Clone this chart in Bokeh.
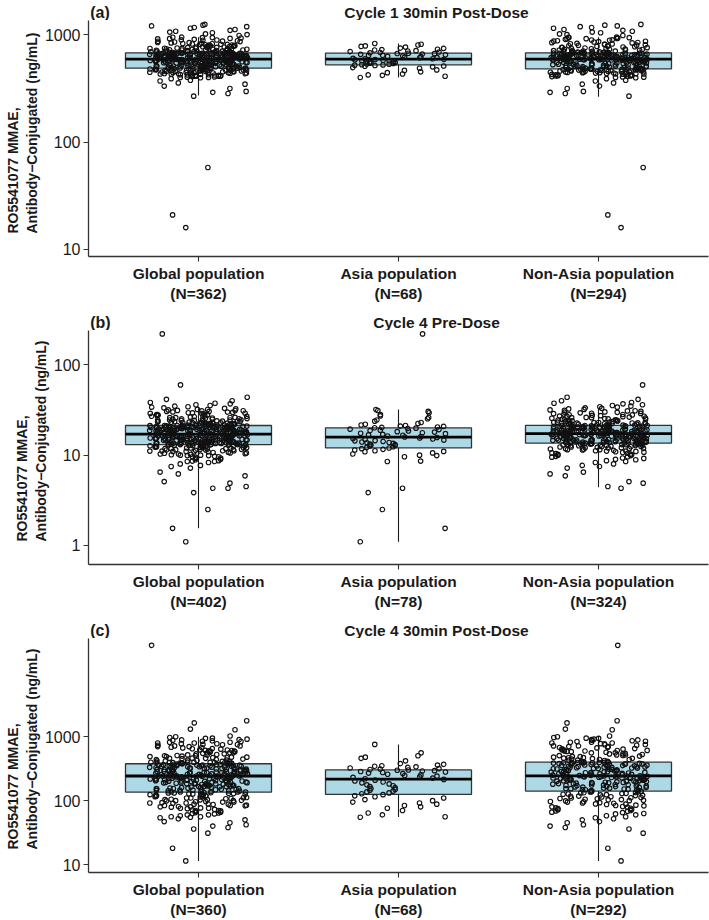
from bokeh.plotting import figure
from bokeh.layouts import column
from bokeh.models import FixedTicker, NumeralTickFormatter, Range1d, Title
from bokeh.core.properties import value
from bokeh.embed import file_html
from bokeh.resources import INLINE

GROUPS = ["Global population", "Asia population", "Non-Asia population"]
Y_LABEL = ["RO5541077 MMAE,", "Antibody\u2212Conjugated (ng/mL)"]

# ---------------- Panel (a) ----------------
A_TITLE = "Cycle 1 30min Post-Dose"
A_N = [362, 68, 294]
A_ASIA = [400, 411, 419, 423, 431, 444, 452, 466, 471, 488, 495, 503, 509, 512, 518, 521, 524,
          527, 533, 535, 541, 544, 550, 552, 556, 559, 561, 566, 572, 573, 579, 584, 588, 591,
          596, 598, 604, 611, 613, 620, 627, 629, 636, 643, 645, 652, 658, 661, 667, 670, 673,
          679, 684, 692, 698, 706, 712, 721, 728, 734, 747, 752, 768, 779, 788, 803, 816, 829]
A_NONASIA = [16, 21, 58, 268, 284, 291, 297, 316, 333, 347,
             356, 371, 377, 390, 398, 401, 403, 405, 408, 411,
             413, 414, 416, 419, 421, 422, 424, 425, 428, 430,
             431, 433, 434, 436, 439, 440, 441, 443, 444, 446,
             447, 448, 450, 451, 453, 455, 456, 457, 458, 460,
             461, 462, 464, 465, 466, 467, 469, 470, 471, 472,
             473, 474, 475, 476, 477, 478, 479, 479, 480, 481,
             481, 482, 482, 482,
             483, 485, 486, 489, 490, 491, 494, 496, 497, 499,
             500, 503, 504, 505, 508, 509, 511, 512, 515, 516,
             518, 519, 521, 524, 525, 527, 528, 530, 532, 533,
             535, 537, 538, 541, 542, 544, 545, 548, 549, 551,
             553, 554, 556, 558, 560, 561, 563, 565, 566, 568,
             570, 571, 573, 575, 576, 578, 580, 581, 582, 584,
             585, 586, 587, 588, 589, 590, 590, 591, 591, 592,
             592, 593, 593,
             594, 595, 597, 598, 599, 601, 602, 604, 605, 606,
             608, 609, 611, 612, 613, 615, 616, 617, 619, 620,
             621, 623, 624, 626, 627, 628, 630, 631, 633, 634,
             635, 637, 638, 639, 641, 642, 644, 645, 646, 648,
             649, 650, 652, 653, 655, 656, 657, 659, 660, 661,
             663, 664, 665, 667, 668, 669, 670, 671, 672, 673,
             674, 675, 676, 676, 677, 677, 678, 678, 679, 679,
             680, 680, 680,
             683, 686, 689, 692, 695, 698, 701, 704, 707, 711,
             714, 718, 721, 725, 729, 733, 737, 741, 745, 750,
             754, 759, 764, 769, 774, 779, 784, 790, 796, 801,
             807, 813, 820, 826, 833, 840, 848, 856, 864, 872,
             880, 889, 898, 907, 916, 925, 934, 942, 948, 951,
             705, 732, 760, 790, 815, 845, 870, 895, 920, 940,
             985, 1005, 1020, 1045, 1060, 1080, 1100, 1120, 1150, 1170,
             1190, 1210, 1230, 1250]
A_Q1 = [489, 525, 482]
A_MED = [593, 593, 593]
A_Q3 = [680, 674, 680]
A_WLO = [272, 400, 265]
A_WHI = [950, 830, 950]
A_YTICKS = [10, 100, 1000]
A_YRANGE = [8.6, 1359]

# ---------------- Panel (b) ----------------
B_TITLE = "Cycle 4 Pre-Dose"
B_N = [402, 78, 324]
B_ASIA = [1.1, 1.55, 2.5, 3.85, 4.3, 8.5, 8.6, 9.6, 9.9, 10.0, 10.3, 10.6, 10.9, 11.0, 11.2, 11.4, 11.6, 11.8, 12.0,
          12.2, 12.4, 12.6, 12.8, 13.0, 13.1, 13.3, 13.5, 13.7, 13.8, 14.0, 14.2, 14.4, 14.5, 14.7, 14.9, 15.1, 15.3, 15.5, 15.7,
          15.9, 16.1, 16.3, 16.6, 16.8, 17.0, 17.3, 17.5, 17.7, 18.0, 18.2, 18.5, 18.7, 18.9, 19.2, 19.4, 19.7, 19.9, 20.1,
          20.3, 20.5, 20.8, 21.0, 21.3, 21.6, 22.0, 22.4, 23.0, 23.8, 24.5, 25.3, 26.1, 27.2, 28.1, 29.5, 30.5, 31.2, 32.0, 220]
B_NONASIA = [4.3, 4.5, 4.9, 5.1, 5.9, 6.2, 6.5, 7.2, 7.5, 7.7,
             8.0, 8.3, 8.5, 8.7, 8.9, 9.0, 9.2, 9.3, 9.5, 9.6,
             9.7, 9.9, 10.0, 10.1, 10.2, 10.3, 10.4, 10.5, 10.6, 10.7,
             10.8, 10.9, 11.0, 11.1, 11.1, 11.2, 11.3, 11.4, 11.5, 11.5,
             11.6, 11.7, 11.8, 11.8, 11.9, 12.0, 12.1, 12.1, 12.2, 12.3,
             12.3, 12.4, 12.5, 12.5, 12.6, 12.7, 12.7, 12.8, 12.8, 12.9,
             12.9, 13.0, 13.0, 13.1, 13.1, 13.2, 13.2, 13.3, 13.3, 13.3,
             13.4, 13.4, 13.4, 13.5, 13.5, 13.5, 13.6, 13.6, 13.6, 13.6,
             13.6,
             13.7, 13.7, 13.8, 13.8, 13.9, 13.9, 14.0, 14.0, 14.1, 14.1,
             14.2, 14.2, 14.3, 14.3, 14.4, 14.4, 14.5, 14.5, 14.6, 14.6,
             14.7, 14.7, 14.8, 14.8, 14.9, 14.9, 15.0, 15.0, 15.1, 15.1,
             15.2, 15.2, 15.3, 15.3, 15.4, 15.4, 15.5, 15.5, 15.6, 15.6,
             15.7, 15.7, 15.8, 15.8, 15.9, 15.9, 16.0, 16.0, 16.1, 16.1,
             16.2, 16.2, 16.3, 16.3, 16.4, 16.4, 16.5, 16.5, 16.6, 16.6,
             16.7, 16.7, 16.8, 16.8, 16.9, 16.9, 17.0, 17.0, 17.1, 17.1,
             17.2, 17.2, 17.3, 17.3, 15.0, 15.5, 16.0, 16.5, 14.5, 14.0,
             17.0,
             17.4, 17.4, 17.5, 17.5, 17.6, 17.6, 17.7, 17.7, 17.8, 17.8,
             17.9, 17.9, 18.0, 18.0, 18.1, 18.1, 18.2, 18.2, 18.3, 18.3,
             18.4, 18.4, 18.5, 18.5, 18.6, 18.6, 18.7, 18.7, 18.8, 18.8,
             18.9, 18.9, 19.0, 19.0, 19.1, 19.1, 19.2, 19.2, 19.3, 19.3,
             19.4, 19.4, 19.5, 19.5, 19.6, 19.6, 19.7, 19.7, 19.8, 19.8,
             19.9, 19.9, 20.0, 20.0, 20.1, 20.1, 20.2, 20.2, 20.3, 20.3,
             20.4, 20.4, 20.5, 20.5, 20.6, 20.6, 20.7, 20.7, 20.8, 20.8,
             20.9, 20.9, 21.0, 21.0, 21.1, 21.1, 21.2, 21.2, 21.3, 21.3,
             21.4,
             21.5, 21.6, 21.7, 21.8, 21.9, 22.0, 22.1, 22.2, 22.3, 22.4,
             22.5, 22.6, 22.7, 22.8, 22.9, 23.0, 23.1, 23.2, 23.3, 23.5,
             23.6, 23.7, 23.9, 24.0, 24.2, 24.3, 24.5, 24.6, 24.8, 25.0,
             25.2, 25.4, 25.6, 25.8, 26.0, 26.2, 26.4, 26.7, 26.9, 27.1,
             27.4, 27.6, 27.9, 28.2, 28.5, 28.8, 29.1, 29.4, 29.8, 30.1,
             30.5, 30.9, 31.3, 31.7, 32.1, 32.5, 33.0, 33.4, 34.0, 34.4,
             34.9, 35.5, 36.2, 37.0, 37.6, 38.3, 40.0, 41.5, 43.8, 60.0,
             22.0, 23.0, 24.0, 25.0, 26.0, 27.0, 28.0, 29.0, 30.0, 31.0,
             24.5]
B_Q1 = [13.1, 12.05, 13.6]
B_MED = [17.1, 15.8, 17.3]
B_Q3 = [21.3, 20.1, 21.4]
B_WLO = [1.55, 1.1, 4.42]
B_WHI = [33.0, 32.0, 33.0]
B_YTICKS = [1, 10, 100]
B_YRANGE = [0.616, 240]

# ---------------- Panel (c) ----------------
C_TITLE = "Cycle 4 30min Post-Dose"
C_N = [360, 68, 292]
C_ASIA = [55, 56, 60, 64, 70, 76, 80, 84, 88, 92, 95, 100, 104, 110, 115, 119, 124,
          128, 132, 137, 141, 146, 150, 155, 160, 166, 171, 177, 183, 190, 196, 203, 209, 215,
          220, 225, 231, 236, 242, 248, 253, 259, 265, 270, 276, 281, 286, 291, 295, 299, 302,
          307, 312, 318, 325, 331, 338, 345, 352, 360, 370, 380, 420, 460, 480, 505, 560, 760]
C_NONASIA = [11.4, 18, 31, 36, 38, 40, 42, 45, 47, 50,
             52, 54, 56, 58, 60, 62, 63, 65, 66, 68,
             69, 70, 72, 73, 75, 76, 77, 79, 80, 81,
             83, 84, 85, 87, 88, 89, 91, 92, 93, 95,
             96, 97, 99, 100, 101, 103, 104, 105, 107, 108,
             110, 111, 112, 114, 115, 117, 118, 120, 121, 123,
             124, 126, 127, 129, 130, 132, 133, 134, 136, 137,
             138, 139, 140,
             142, 143, 145, 146, 148, 149, 151, 152, 154, 155,
             157, 158, 160, 161, 163, 164, 166, 167, 169, 170,
             172, 173, 175, 176, 178, 179, 181, 182, 184, 185,
             187, 188, 190, 191, 193, 194, 196, 197, 199, 200,
             202, 203, 205, 206, 208, 209, 211, 212, 214, 215,
             217, 218, 220, 221, 223, 224, 226, 227, 229, 230,
             232, 233, 235, 236, 238, 239, 240, 241, 242, 243,
             244, 244, 245,
             247, 249, 251, 253, 255, 258, 260, 262, 264, 266,
             268, 271, 273, 275, 277, 279, 282, 284, 286, 288,
             291, 293, 295, 297, 300, 302, 304, 307, 309, 311,
             313, 316, 318, 320, 323, 325, 327, 330, 332, 334,
             337, 339, 342, 344, 346, 349, 351, 354, 356, 359,
             361, 363, 366, 368, 371, 373, 376, 378, 380, 383,
             385, 387, 389, 391, 392, 394, 395, 396, 397, 398,
             399, 399, 400,
             405, 412, 418, 425, 432, 440, 447, 455, 463, 471,
             480, 489, 498, 508, 518, 528, 539, 550, 561, 573,
             585, 598, 611, 625, 639, 654, 669, 685, 702, 720,
             738, 757, 777, 798, 820, 843, 867, 892, 918, 945,
             973, 1000, 1030, 1290, 1320, 1650, 1780, 27000, 430, 470,
             520, 560, 600, 650, 700, 750, 800, 850, 900, 950,
             440, 510, 590, 680, 780, 880, 460, 540, 620, 720,
             820, 490, 610]
C_Q1 = [136, 125, 141]
C_MED = [243, 217, 245]
C_Q3 = [378, 303, 400]
C_WLO = [11.4, 55.7, 11.4]
C_WHI = [1000, 760, 1030]
C_YTICKS = [10, 100, 1000]
C_YRANGE = [7.5, 34560]

FONT = "Liberation Sans"
TXT = "#1a1a1a"
W = 709
LEFT = 88
FRAME_W = 620
HEADER_H = 20
BOX_HALF = 0.365
JIT = 0.245
GOLD = 0.6180339887
SQ3 = 1.7320508076


def jitter(n, phase):
    # deterministic (quadratic Weyl sequence) horizontal spread of points
    return [((i * GOLD + i * i * SQ3 / 7.0 + phase) % 1.0 - 0.5) * 2 * JIT for i in range(n)]


def header(letter, title):
    h = figure(width=W, height=HEADER_H, x_range=Range1d(0, W), y_range=Range1d(0, HEADER_H),
               output_backend="svg", toolbar_location=None, title=None,
               x_axis_location=None, y_axis_location=None, min_border=0)
    h.outline_line_color = None
    h.xgrid.visible = False
    h.ygrid.visible = False
    h.text(x=[2], y=[HEADER_H - 12], text=[letter], text_align="left", text_baseline="middle",
           text_font=value(FONT), text_font_style="bold", text_font_size="16px", text_color=TXT)
    h.text(x=[LEFT + FRAME_W / 2], y=[HEADER_H - 12], text=[title], text_align="center",
           text_baseline="middle", text_font=value(FONT), text_font_style="bold",
           text_font_size="15.5px", text_color=TXT)
    return h


def panel(asia, nonasia, ns, q1, med, q3, wlo, whi, yticks, yrange, frame_h, bottom):
    assert len(asia) == ns[1], f"asia {len(asia)} != {ns[1]}"
    assert len(nonasia) == ns[2], f"nonasia {len(nonasia)} != {ns[2]}"
    glob = sorted(asia + nonasia)
    groups = [glob, asia, nonasia]

    p = figure(width=W, height=frame_h + bottom, y_axis_type="log",
               x_range=Range1d(0.45, 3.55), y_range=Range1d(yrange[0], yrange[1]),
               output_backend="svg", toolbar_location=None, title=None,
               min_border_left=LEFT, min_border_right=W - LEFT - FRAME_W, min_border_top=0,
               min_border_bottom=bottom)
    p.outline_line_color = None
    p.xgrid.visible = False
    p.ygrid.visible = False

    xs = [1, 2, 3]
    p.quad(left=[x - BOX_HALF for x in xs], right=[x + BOX_HALF for x in xs],
           bottom=q1, top=q3, fill_color="#ADD8E6", line_color="#333333", line_width=1.3)
    p.segment(x0=xs, x1=xs, y0=q3, y1=whi, line_color="#1a1a1a", line_width=1.1)
    p.segment(x0=xs, x1=xs, y0=q1, y1=wlo, line_color="#1a1a1a", line_width=1.1)
    p.segment(x0=[x - BOX_HALF for x in xs], x1=[x + BOX_HALF for x in xs],
              y0=med, y1=med, line_color="black", line_width=2.8)

    phases = [0.37, 0.11, 0.73]
    for i, vals in enumerate(groups):
        jx = jitter(len(vals), phases[i])
        p.scatter([xs[i] + j for j in jx], vals, marker="circle", size=4.5,
                  fill_color=None, line_color="#111111", line_width=1.15)

    for ax in (p.xaxis, p.yaxis):
        ax.axis_line_color = "#333333"
        ax.axis_line_width = 1.3
        ax.major_tick_line_color = "#333333"
        ax.major_tick_line_width = 1.1
        ax.major_tick_out = 5
        ax.major_tick_in = 0
        ax.minor_tick_out = 0
        ax.minor_tick_in = 0
        ax.major_label_text_font = FONT
        ax.major_label_text_color = TXT
        ax.major_label_standoff = 3
    p.xaxis.ticker = FixedTicker(ticks=xs)
    p.xaxis.major_label_overrides = {xs[i]: f"{GROUPS[i]}\n(N={ns[i]})" for i in range(3)}
    p.xaxis.major_label_text_font_style = "bold"
    p.xaxis.major_label_text_font_size = "15.5px"
    p.yaxis.ticker = FixedTicker(ticks=yticks, minor_ticks=[])
    p.yaxis.formatter = NumeralTickFormatter(format="0")
    p.yaxis.major_label_text_font_size = "16px"

    # two-line y-axis title, both lines starting near the bottom of the frame
    for line, stand in ((Y_LABEL[1], 3), (Y_LABEL[0], 0)):
        p.add_layout(Title(text=line, align="left", offset=23, standoff=stand,
                           text_font=FONT, text_font_style="bold", text_font_size="14px",
                           text_color=TXT), "left")
    return p


ha = header("(a)", A_TITLE)
pa = panel(A_ASIA, A_NONASIA, A_N, A_Q1, A_MED, A_Q3, A_WLO, A_WHI, A_YTICKS, A_YRANGE, 236, 54)
hb = header("(b)", B_TITLE)
pb = panel(B_ASIA, B_NONASIA, B_N, B_Q1, B_MED, B_Q3, B_WLO, B_WHI, B_YTICKS, B_YRANGE, 234, 54)
hc = header("(c)", C_TITLE)
pc = panel(C_ASIA, C_NONASIA, C_N, C_Q1, C_MED, C_Q3, C_WLO, C_WHI, C_YTICKS, C_YRANGE, 235, 47)

layout = column(ha, pa, hb, pb, hc, pc, spacing=0)
open("out.html", "w").write(file_html(layout, INLINE))
